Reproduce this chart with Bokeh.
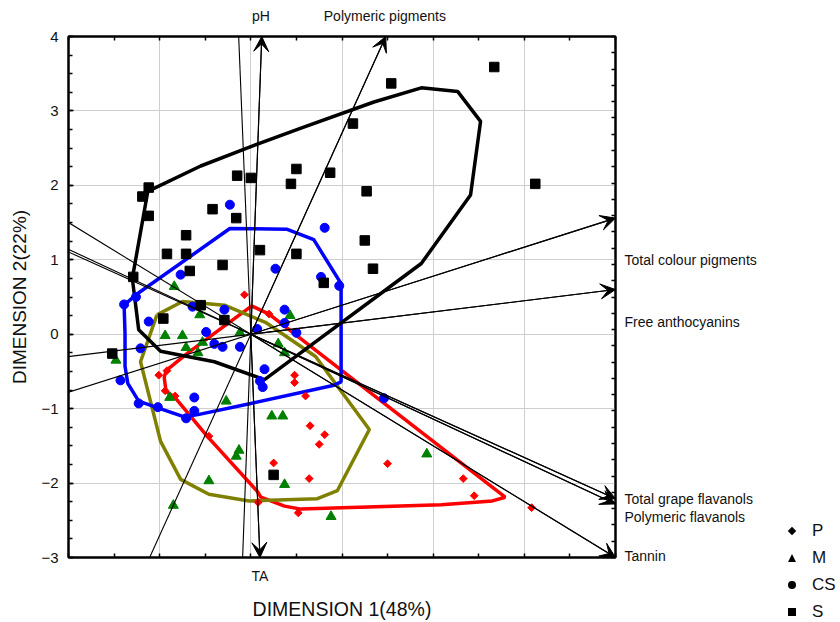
import numpy as np
from bokeh.plotting import figure
from bokeh.layouts import row
from bokeh.models import (Range1d, LinearAxis, SingleIntervalTicker, FixedTicker,
                          CustomJSTickFormatter, Arrow, VeeHead, Div)
from bokeh.embed import file_html
from bokeh.resources import INLINE

# ---------------- data ----------------
p_x = [-0.07, -1.01, -0.92, -0.94, -0.83, -0.46, 0.25, 0.48, 0.48, 0.60, 0.65, 0.81, 0.75, 0.64, 1.50, 0.52, 0.08, 2.33, 2.45, 3.08, 0.20]
p_y = [0.53, -0.55, -0.49, -0.76, -0.83, -1.37, -1.73, -0.55, -0.65, -0.83, -1.23, -1.35, -1.48, -1.94, -1.74, -2.40, -2.26, -1.94, -2.17, -2.33, 0.27]

m_x = [-0.84, -0.56, 0.43, -0.94, -0.75, -0.71, -0.58, -0.53, -0.12, -1.48, -0.89, -0.27, 0.23, 0.35, 0.30, 0.37, -0.16, -0.13, -0.46, 0.37, -0.85, 0.88, 1.93]
m_y = [0.64, 0.26, 0.25, -0.02, -0.02, -0.18, -0.25, -0.11, 0.02, -0.35, -0.85, -0.90, -1.10, -1.10, -0.13, -0.25, -1.64, -1.56, -1.97, -2.02, -2.30, -2.45, -1.61]

cs_x = [-0.23, 0.81, -0.77, 0.27, 0.77, 0.97, -1.39, -1.26, -0.64, -0.29, 0.37, -1.12, -1.21, -1.43, -1.23, -1.02, -0.71, -0.62, -0.62, -0.49, -0.40, -0.31, -0.12, 0.07, 0.15, 0.10, 0.13, 0.37, 0.50, 1.46]
cs_y = [1.74, 1.43, 0.80, 0.88, 0.77, 0.65, 0.40, 0.50, 0.37, 0.33, 0.33, 0.17, -0.19, -0.62, -0.93, -0.98, -1.13, -0.85, -1.03, 0.03, -0.13, -0.17, -0.17, 0.07, -0.47, -0.63, -0.71, 0.15, 0.02, -0.86]

s_x = [-1.12, -1.19, -1.12, -0.15, 0.00, 0.44, 0.50, 0.87, 1.12, 1.54, 1.27, 1.25, 1.34, -0.42, -0.16, -0.71, -0.92, -0.71, -0.67, -0.31, 0.10, 0.50, 0.80, -1.29, 2.67, 3.12, -1.52, -0.96, -0.55, -0.29, 0.25]
s_y = [1.97, 1.85, 1.59, 2.13, 2.10, 2.02, 2.22, 2.17, 2.83, 3.37, 1.92, 1.26, 0.88, 1.68, 1.56, 1.33, 1.08, 1.08, 0.85, 0.93, 1.13, 1.08, 0.69, 0.77, 3.59, 2.02, -0.26, 0.21, 0.39, 0.19, -1.89]

p_hull_x = [0.01, 0.20, 2.79, 2.65, 2.09, 0.55, 0.37, 0.11, 0.07, -0.48, -0.84, -0.93, -0.95, -0.93, -0.69, 0.01]
p_hull_y = [0.38, 0.27, -2.19, -2.24, -2.29, -2.35, -2.31, -2.19, -2.11, -1.37, -0.84, -0.77, -0.58, -0.49, -0.25, 0.38]

m_hull_x = [-1.03, -0.75, -0.29, 0.16, 0.71, 1.30, 0.95, 0.73, -0.02, -0.46, -0.77, -0.99, -1.21, -1.03]
m_hull_y = [0.26, 0.44, 0.39, 0.16, -0.30, -1.28, -2.10, -2.21, -2.24, -2.15, -1.95, -1.44, -0.37, 0.26]

cs_hull_x = [-1.39, -1.26, -0.23, 0.40, 0.69, 0.99, 0.99, 0.90, 0.00, -0.58, -0.73, -1.02, -1.23, -1.35, -1.38, -1.38, -1.39]
cs_hull_y = [0.39, 0.53, 1.42, 1.41, 1.27, 0.68, -0.64, -0.69, -0.93, -1.08, -1.11, -0.99, -0.90, -0.66, -0.43, 0.01, 0.39]

s_hull_x = [-1.13, -0.55, 0.00, 0.55, 1.35, 1.87, 2.27, 2.52, 2.41, 1.87, 0.15, -0.40, -0.99, -1.23, -1.30, -1.13]
s_hull_y = [1.92, 2.26, 2.52, 2.77, 3.12, 3.31, 3.26, 2.86, 1.87, 0.95, -0.61, -0.37, -0.23, 0.06, 0.75, 1.92]

var_names = ["pH", "Polymeric pigments", "Total colour pigments", "Free anthocyanins",
             "Total grape flavanols", "Polymeric flavanols", "Tannin", "TA"]
var_x = [0.12, 1.48, 4.0, 4.0, 4.0, 4.0, 4.0, 0.10]
var_y = [4.0, 4.0, 1.56, 0.60, -2.21, -2.28, -3.0, -3.0]

group_names = ["P", "M", "CS", "S"]

# ---------------- layout / style ----------------
FONT = "Liberation Sans"
TXT = "#111111"
# where each vector's name is written (position along the side where it ends)
top_names, top_pos = ["pH", "Polymeric pigments"], [0.11, 1.47]
right_names = ["Total colour pigments", "Free anthocyanins", "Total grape flavanols",
               "Polymeric flavanols", "Tannin"]
right_pos = [0.996, 0.165, -2.213, -2.454, -2.977]
bottom_names, bottom_pos = ["TA"], [0.10]

X0, X1, Y0, Y1 = -2, 4, -3, 4
MAIN_W, LEG_W, H = 770, 70, 622

p = figure(width=MAIN_W, height=H, x_range=Range1d(X0, X1), y_range=Range1d(Y0, Y1),
           output_backend="svg", toolbar_location=None,
           min_border_left=68, min_border_right=MAIN_W - 615, min_border_top=36,
           min_border_bottom=64)
p.outline_line_color = "black"
p.outline_line_width = 2
p.background_fill_color = "white"
p.border_fill_color = "white"

p.xgrid.ticker = SingleIntervalTicker(interval=1)
p.ygrid.ticker = SingleIntervalTicker(interval=1)
for g in (p.xgrid, p.ygrid):
    g.grid_line_color = "#cfcfcf"
    g.grid_line_width = 1


def tick_style(ax, tin=4):
    ax.axis_line_color = "black"
    ax.axis_line_width = 2
    ax.major_tick_in = tin + 1
    ax.major_tick_out = 0
    ax.minor_tick_in = tin
    ax.minor_tick_out = 0
    ax.major_tick_line_color = "black"
    ax.minor_tick_line_color = "black"
    ax.major_tick_line_width = 1.5
    ax.minor_tick_line_width = 1.5
    ax.major_label_standoff = 0


def name_axis(ax, names, pos, standoff):
    ax.ticker = FixedTicker(ticks=pos)
    ax.formatter = CustomJSTickFormatter(args=dict(vals=pos, names=names), code="""
        let best = 0, d = 1e9;
        for (let i = 0; i < vals.length; i++) {
            const e = Math.abs(vals[i] - tick);
            if (e < d) { d = e; best = i; }
        }
        return names[best];
    """)
    ax.axis_line_color = None
    ax.major_tick_line_color = None
    ax.minor_tick_line_color = None
    ax.major_label_standoff = standoff
    ax.major_label_text_font = FONT
    ax.major_label_text_font_size = "14px"
    ax.major_label_text_color = TXT


half_steps = list(np.arange(X0, X1 + 0.01, 0.5))

# bottom: tick-only axis + names axis (with title)
xa = p.xaxis[0]
xa.ticker = FixedTicker(ticks=[], minor_ticks=half_steps)
tick_style(xa)
xb = LinearAxis()
name_axis(xb, bottom_names, bottom_pos, 4)
xb.axis_label = "DIMENSION 1(48%)"
xb.axis_label_text_font = FONT
xb.axis_label_text_font_size = "19.5px"
xb.axis_label_text_font_style = "normal"
xb.axis_label_text_color = TXT
xb.axis_label_standoff = 11
p.add_layout(xb, "below")

# left
ya = p.yaxis[0]
ya.ticker = SingleIntervalTicker(interval=1, num_minor_ticks=4)
tick_style(ya)
ya.major_label_standoff = 10
ya.major_label_text_font = FONT
ya.major_label_text_font_size = "15px"
ya.major_label_text_color = TXT
ya.axis_label = "DIMENSION 2(22%)"
ya.axis_label_text_font = FONT
ya.axis_label_text_font_size = "19px"
ya.axis_label_text_font_style = "normal"
ya.axis_label_text_color = TXT
ya.axis_label_standoff = 8

# top: tick-only axis + names axis
top_t = LinearAxis(ticker=FixedTicker(ticks=[], minor_ticks=half_steps))
tick_style(top_t)
p.add_layout(top_t, "above")
top_n = LinearAxis()
name_axis(top_n, top_names, top_pos, 7)
p.add_layout(top_n, "above")

# right: tick-only axis on its own scale + names axis
p.extra_y_ranges = {"r": Range1d(0, 8)}
right_t = LinearAxis(y_range_name="r",
                     ticker=FixedTicker(ticks=[], minor_ticks=list(np.arange(0, 8.01, 0.25))))
tick_style(right_t)
p.add_layout(right_t, "right")
right_n = LinearAxis()
name_axis(right_n, right_names, right_pos, 3)
p.add_layout(right_n, "right")

# group polygons
LW = 3.5
p.line(p_hull_x, p_hull_y, line_color="#ff0000", line_width=LW)
p.line(m_hull_x, m_hull_y, line_color="#808000", line_width=LW)
p.line(cs_hull_x, cs_hull_y, line_color="#0000ff", line_width=LW)
p.line(s_hull_x, s_hull_y, line_color="#000000", line_width=LW)

# points
p.scatter(p_x, p_y, marker="square", angle=np.pi / 4, size=5.5, color="#ff0000")
p.scatter(m_x, m_y, marker="triangle", size=10, color="#008000")
p.scatter(cs_x, cs_y, marker="circle", size=9, color="#0000ff")
p.scatter(s_x, s_y, marker="square", size=9.5, color="#000000")

# variable vectors: full line through the origin, arrow head at the named end
vx = np.array(var_x)
vy = np.array(var_y)
p.segment(x0=-3 * vx, y0=-3 * vy, x1=vx, y1=vy, line_color="black", line_width=1.1)
for x1, y1 in zip(var_x, var_y):
    p.add_layout(Arrow(end=VeeHead(size=15, fill_color="black", line_color="black", line_width=1),
                       x_start=0, y_start=0, x_end=x1, y_end=y1,
                       line_color="black", line_width=1.1))

# legend column to the right of the plot (black key symbols + group names)
shape_css = [
    "width:6px;height:6px;background:#000;transform:rotate(45deg);margin:1px;",      # diamond
    "width:0;height:0;border-left:4.5px solid transparent;border-right:4.5px solid transparent;"
    "border-bottom:8px solid #000;",                                                  # triangle
    "width:8px;height:8px;background:#000;border-radius:50%;",                         # circle
    "width:8px;height:8px;background:#000;",                                          # square
]
row_top, row_step = 516, 27
rows_html = []
for i, (css, name) in enumerate(zip(shape_css, group_names)):
    top = row_top + i * row_step
    rows_html.append(
        f'<div style="position:absolute;left:7px;top:{top}px;width:63px;height:20px;'
        f'display:flex;align-items:center;">'
        f'<div style="width:20px;height:20px;display:flex;align-items:center;justify-content:center;">'
        f'<div style="{css}"></div></div>'
        f'<span style="margin-left:10px;font-family:\'{FONT}\';font-size:17px;color:{TXT};'
        f'line-height:20px;">{name}</span></div>'
    )
legend_div = Div(text=f'<div style="position:relative;width:{LEG_W}px;height:{H}px;">'
                      + "".join(rows_html) + "</div>",
                 width=LEG_W, height=H)

layout = row(p, legend_div, spacing=0)
open("out.html", "w").write(file_html(layout, INLINE))
